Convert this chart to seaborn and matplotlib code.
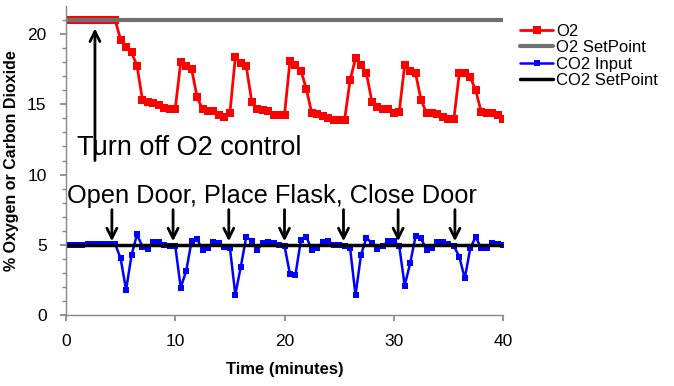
import matplotlib
matplotlib.use("Agg")
import matplotlib.pyplot as plt
import seaborn as sns
import numpy as np

time_min = [0, 0.5, 1, 1.5, 2, 2.5, 3, 3.5, 4, 4.5,
            5, 5.5, 6, 6.5, 7, 7.5, 8, 8.5, 9, 9.5,
            10, 10.5, 11, 11.5, 12, 12.5, 13, 13.5, 14, 14.5,
            15, 15.5, 16, 16.5, 17, 17.5, 18, 18.5, 19, 19.5,
            20, 20.5, 21, 21.5, 22, 22.5, 23, 23.5, 24, 24.5,
            25, 25.5, 26, 26.5, 27, 27.5, 28, 28.5, 29, 29.5,
            30, 30.5, 31, 31.5, 32, 32.5, 33, 33.5, 34, 34.5,
            35, 35.5, 36, 36.5, 37, 37.5, 38, 38.5, 39, 39.5, 40]

o2 = [21, 21, 21, 21, 21, 21, 21, 21, 21, 21,
      19.6, 19.1, 18.7, 17.75, 15.3, 15.15, 15.1, 14.95, 14.75, 14.7,
      14.7, 18.0, 17.7, 17.5, 15.5, 14.66, 14.55, 14.55, 14.23, 14.1,
      14.35, 18.35, 17.96, 17.7, 15.2, 14.64, 14.6, 14.55, 14.23, 14.23,
      14.23, 18.1, 17.8, 17.4, 16.1, 14.35, 14.3, 14.2, 14.0, 13.9,
      13.9, 13.9, 16.7, 18.27, 17.8, 17.2, 15.2, 14.83, 14.7, 14.65,
      14.4, 14.45, 17.8, 17.37, 17.2, 15.3, 14.4, 14.4, 14.3, 14.07,
      13.94, 13.94, 17.2, 17.2, 16.96, 16.0, 14.47, 14.4, 14.35, 14.23, 13.94]

co2 = [5.0, 5.0, 4.98, 4.98, 5.05, 5.05, 5.07, 5.07, 5.07, 5.05,
       4.03, 1.78, 4.27, 5.74, 4.86, 4.7, 5.17, 5.17, 5.0, 4.93,
       4.93, 1.95, 3.13, 5.27, 5.4, 4.63, 4.74, 5.17, 5.1, 4.86,
       4.8, 1.45, 3.44, 5.57, 5.27, 4.63, 5.1, 5.17, 5.1, 5.0,
       4.93, 2.9, 2.85, 5.34, 5.57, 4.63, 4.74, 5.2, 5.27, 5.0,
       5.0, 4.93, 4.8, 1.4, 4.27, 5.5, 5.1, 4.7, 4.93, 5.27,
       5.27, 4.93, 2.1, 3.68, 5.62, 5.45, 4.63, 4.74, 5.2, 5.2,
       5.05, 4.91, 4.15, 2.6, 4.74, 5.57, 4.74, 4.74, 5.12, 5.07, 4.98]

setpoint_time = [0, 40]
o2_setpoint = [21, 21]
co2_setpoint = [5, 5]

door_times = [4.2, 9.8, 14.9, 20.0, 25.4, 30.4, 35.6]
o2_off_time = 2.65

x_ticks = [0, 10, 20, 30, 40]
y_ticks = [0, 5, 10, 15, 20]

sns.set_theme(style="white")
plt.rcParams['font.family'] = ['Liberation Sans', 'DejaVu Sans']
plt.rcParams['text.color'] = 'black'
plt.rcParams['axes.labelcolor'] = 'black'
plt.rcParams['xtick.labelcolor'] = 'black'
plt.rcParams['ytick.labelcolor'] = 'black'

fig = plt.figure(figsize=(6.74, 3.86), dpi=100)
ax = fig.add_axes([66/674, 1 - 315/386, (503-66)/674, (315-6)/386])

sns.lineplot(x=time_min, y=o2, ax=ax, color='#ff0000', lw=2, marker='s',
             markersize=5.5, markeredgewidth=0, estimator=None, label='O2')
sns.lineplot(x=setpoint_time, y=o2_setpoint, ax=ax, color='#707070', lw=3,
             estimator=None, label='O2 SetPoint')
sns.lineplot(x=time_min, y=co2, ax=ax, color='#0000ff', lw=1.8, marker='s',
             markersize=4, markeredgewidth=0, estimator=None, label='CO2 Input')
sns.lineplot(x=setpoint_time, y=co2_setpoint, ax=ax, color='black', lw=2.5,
             estimator=None, label='CO2 SetPoint')

ax.set_xlim(0, 40)
ax.set_ylim(0, 22)
ax.set_xticks(x_ticks)
ax.set_yticks(y_ticks)
ax.set_yticks(np.arange(0, 22, 1), minor=True)
ax.tick_params(axis='both', which='major', labelsize=12.5, direction='out',
               length=4, color='#888888', labelcolor='black', left=True, bottom=True)
ax.tick_params(axis='x', which='major', pad=10)
ax.tick_params(axis='y', which='major', pad=10)
ax.tick_params(axis='y', which='minor', direction='out', length=3,
               color='#888888', left=True)
for s in ['top', 'right']:
    ax.spines[s].set_visible(False)
for s in ['left', 'bottom']:
    ax.spines[s].set_color('#888888')
    ax.spines[s].set_linewidth(1)

ax.set_xlabel('Time (minutes)', fontsize=12, fontweight='bold', labelpad=9, color='black')
ax.set_ylabel('% Oxygen or Carbon Dioxide', fontsize=11.5, fontweight='bold', labelpad=6,
              color='black')

# Annotations
ax.annotate('', xy=(o2_off_time, 20.6), xytext=(o2_off_time, 10.8),
            arrowprops=dict(arrowstyle='->', lw=2, color='black', mutation_scale=18))
ax.text(1.0, 11.9, 'Turn off O2 control', fontsize=19.5, va='center', ha='left',
        color='black')

ax.text(0.05, 8.5, 'Open Door, Place Flask, Close Door', fontsize=18.3,
        va='center', ha='left', color='black')
for t in door_times:
    ax.annotate('', xy=(t, 5.05), xytext=(t, 7.7),
                arrowprops=dict(arrowstyle='->', lw=2, color='black', mutation_scale=18))

ax.get_legend().remove()
handles, labels = ax.get_legend_handles_labels()
leg = fig.legend(handles, labels, loc='upper left', bbox_to_anchor=(520/674, 1 - 24/386),
                 frameon=False, fontsize=12, handlelength=2.0, handletextpad=0.15,
                 labelspacing=0.08, borderaxespad=0, borderpad=0)
for txt in leg.get_texts():
    txt.set_color('black')

fig.savefig('out.png', dpi=100)
